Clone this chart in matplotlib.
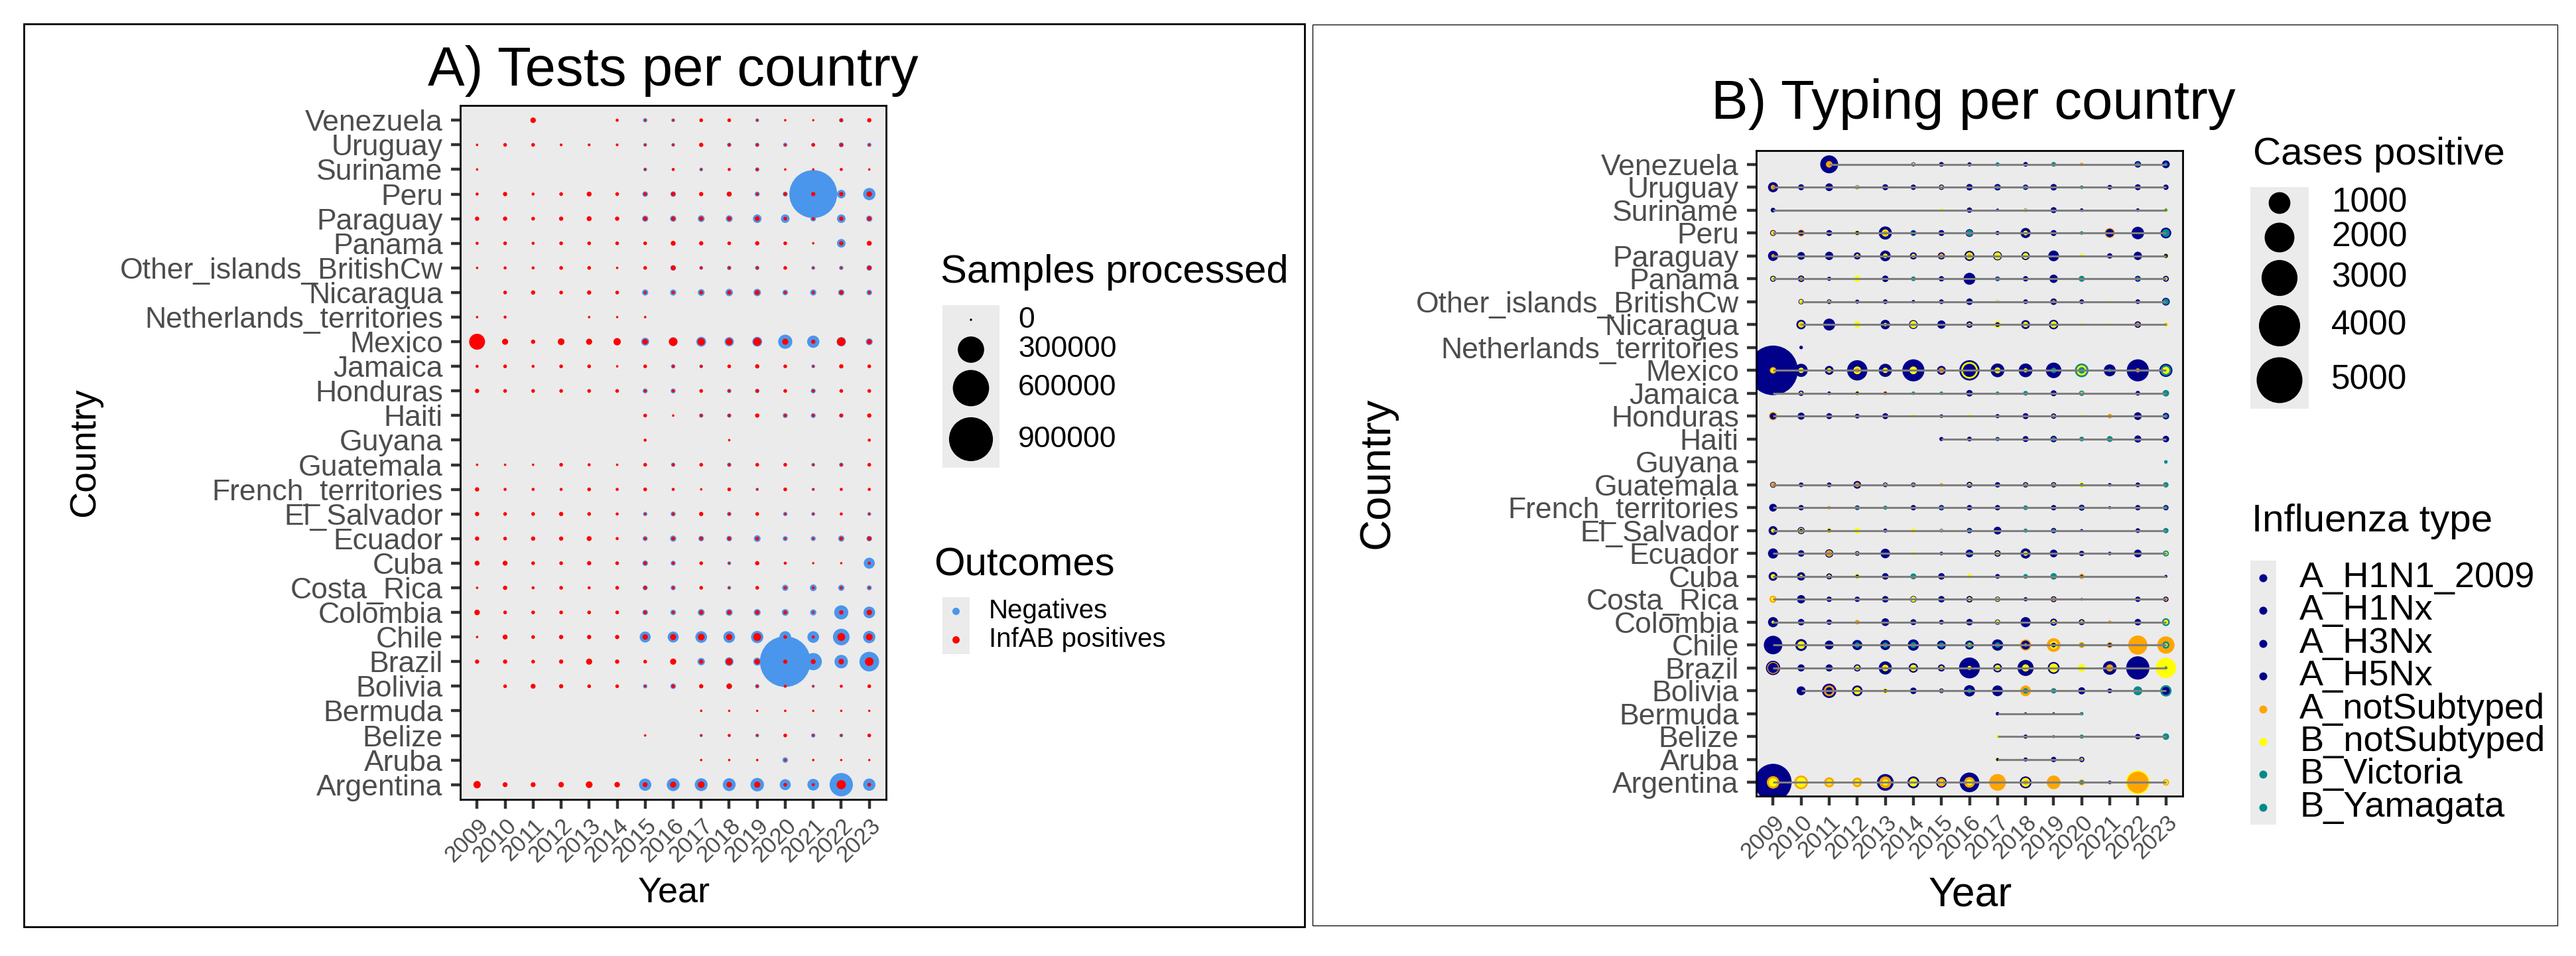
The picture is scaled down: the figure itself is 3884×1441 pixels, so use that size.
import numpy as np
import matplotlib
matplotlib.use("Agg")
import matplotlib.pyplot as plt
from matplotlib.patches import Rectangle

plt.rcParams['font.family'] = ['Liberation Sans', 'DejaVu Sans']

W, H, DPI = 3884, 1441, 100
N = None

countries = ["Argentina", "Aruba", "Belize", "Bermuda", "Bolivia", "Brazil", "Chile",
             "Colombia", "Costa_Rica", "Cuba", "Ecuador", "El_Salvador",
             "French_territories", "Guatemala", "Guyana", "Haiti", "Honduras",
             "Jamaica", "Mexico", "Netherlands_territories", "Nicaragua",
             "Other_islands_BritishCw", "Panama", "Paraguay", "Peru", "Suriname",
             "Uruguay", "Venezuela"]
years = list(range(2009, 2024))

# ---------------- Panel A: samples processed (2009..2023) ----------------
infab_positives = {
    "Argentina": [13200, 3500, 3500, 5300, 10200, 5300, 3500, 7600, 10200, 5300, 7600, 1000, 300, 24800, 1000],
    "Aruba": [N, N, N, N, N, N, N, N, 10, 10, 10, 10, 10, 0, 0],
    "Belize": [N, N, N, N, N, N, 10, N, 10, 300, 10, 1000, 10, 10, 1000],
    "Bermuda": [N, N, N, N, N, N, N, N, 10, 0, 0, 10, 0, 0, 0],
    "Bolivia": [N, 1000, 3500, 2000, 1000, 1000, 10, 1000, 2000, 5300, 300, 300, 0, 300, 1000],
    "Brazil": [2000, 2000, 1000, 2000, 7600, 2000, 1000, 7600, 2000, 10200, 5300, 2000, 3500, 5300, 20400],
    "Chile": [10, 3500, 1000, 2000, 2000, 2000, 5300, 7600, 10200, 7600, 16500, 1000, 300, 16500, 10200],
    "Colombia": [5300, 1000, 1000, 1000, 1000, 1000, 1000, 300, 2000, 2000, 2000, 1000, 10, 2000, 5300],
    "Costa_Rica": [10, 2000, 300, 1000, 300, 1000, 1000, 300, 1000, 10, 1000, 300, 300, 300, 10],
    "Cuba": [3500, 3500, 1000, 1000, 2000, 1000, 1000, 300, 1000, 10, 2000, 300, 0, 0, 300],
    "Ecuador": [2000, 1000, 2000, 2000, 3500, 300, 300, 1000, 1000, 1000, 1000, 10, 10, 1000, 2000],
    "El_Salvador": [2000, 1000, 1000, 2000, 1000, 300, 10, 300, 2000, 300, 1000, 10, 10, 300, 10],
    "French_territories": [2000, 300, 300, 300, 1000, 300, 1000, 300, 10, 1000, 10, 1000, 10, 300, 300],
    "Guatemala": [10, 10, 10, 1000, 300, 10, 1000, 300, 1000, 300, 1000, 1000, 10, 300, 1000],
    "Guyana": [N, N, N, N, N, N, 300, N, N, 10, N, N, N, N, 300],
    "Haiti": [N, N, N, N, N, N, 1000, 10, 300, 300, 2000, 300, 300, 1000, 2000],
    "Honduras": [2000, 1000, 1000, 1000, 1000, 1000, 300, 300, 1000, 300, 1000, 1000, 300, 1000, 1000],
    "Jamaica": [300, 1000, 300, 1000, 1000, 10, 1000, 300, 300, 1000, 2000, 1000, 10, 2000, 1000],
    "Mexico": [96200, 7600, 2000, 10200, 7600, 13200, 5300, 20400, 13200, 10200, 16500, 7600, 2000, 20400, 3500],
    "Netherlands_territories": [10, 300, N, N, 10, 0, 10, N, N, N, N, N, N, N, N],
    "Nicaragua": [N, 1000, 2000, 1000, 2000, 1000, 300, 300, 1000, 2000, 3500, 300, 300, 2000, 300],
    "Other_islands_BritishCw": [10, 300, 300, 1000, 1000, 10, 1000, 3500, 300, 300, 300, 1000, 10, 10, 2000],
    "Panama": [300, 1000, 300, 1000, 1000, 1000, 1000, 3500, 2000, 1000, 2000, 1000, 10, 2000, 3500],
    "Paraguay": [2000, 2000, 1000, 2000, 3500, 2000, 2000, 2000, 2000, 2000, 3500, 1000, 300, 2000, 2000],
    "Peru": [300, 2000, 300, 1000, 3500, 1000, 1000, 2000, 2000, 3500, 300, 1000, 2000, 2000, 5300],
    "Suriname": [10, N, N, N, N, N, 10, 300, 10, 300, 300, 10, 10, 300, 10],
    "Uruguay": [10, 1000, 1000, 100, 100, 100, 10, 10, 2000, 300, 300, 10, 1000, 1000, 10],
    "Venezuela": [N, N, 5300, N, N, 300, 10, 10, 1000, 1000, 10, 10, 0, 1000, 2000],
}

negatives = {
    "Argentina": [N, N, N, N, N, N, 51500, 57900, 57900, 57900, 64600, 39300, 45500, 229000, 51500],
    "Aruba": [N, N, N, N, N, N, N, N, N, N, N, 5300, N, N, N],
    "Belize": [N, N, N, N, N, N, N, N, 300, N, 1000, N, 2000, 1000, N],
    "Bermuda": [N] * 15,
    "Bolivia": [N, N, N, N, N, N, 2000, 5300, N, 5300, 2000, N, 300, N, N],
    "Brazil": [N, N, N, N, N, N, N, N, 13200, 20400, 16500, 1213000, 115000, 64600, 156000],
    "Chile": [N, N, N, N, N, N, 39300, 39300, 45500, 45500, 51500, 45500, 45500, 106000, 51500],
    "Colombia": [N, N, N, N, N, N, 5300, 5300, 10200, 10200, 10200, 10200, 7600, 72500, 45500],
    "Costa_Rica": [N, N, N, N, N, N, 3500, 3500, N, 1000, N, 7600, 10200, 7600, 3500],
    "Cuba": [N, N, N, N, N, N, 5300, 3500, N, 1000, N, N, N, N, 39300],
    "Ecuador": [N, N, N, N, N, N, 3500, 7600, 5300, 5300, 10200, 3500, 3500, 7600, 5300],
    "El_Salvador": [N, N, N, N, N, N, 2000, 3500, N, 2000, N, 2000, 1000, N, 1000],
    "French_territories": [N, N, N, N, N, N, N, N, N, N, 300, N, 300, N, N],
    "Guatemala": [N, N, N, N, N, N, N, 2000, N, 2000, N, N, 1000, 2000, N],
    "Guyana": [N] * 15,
    "Haiti": [N, N, N, N, N, N, N, N, 2000, 2000, N, 3500, 3500, 2000, N],
    "Honduras": [N, N, N, N, N, N, 3500, 3500, N, 2000, 2000, N, 3500, N, N],
    "Jamaica": [N, N, N, N, N, N, N, 2000, 1000, N, N, N, 1000, N, N],
    "Mexico": [N, N, N, N, N, N, 16500, 20400, 29200, 24800, 29200, 72500, 51500, 24800, 10200],
    "Netherlands_territories": [N] * 15,
    "Nicaragua": [N, N, N, N, N, N, 7600, 7600, 10200, 13200, 13200, 5300, 7600, 7600, 5300],
    "Other_islands_BritishCw": [N, N, N, N, N, N, N, 5300, 1000, 2000, 2000, N, 1000, 2000, 5300],
    "Panama": [N, N, N, N, N, N, N, N, N, N, N, N, N, 20400, N],
    "Paraguay": [N, N, N, N, N, N, 7600, 7600, 10200, 10200, 20400, 20400, 5300, 20400, 7600],
    "Peru": [N, N, N, N, N, N, 5300, 5300, N, 3500, 3500, 3500, 1077000, 20400, 51500],
    "Suriname": [N, N, N, N, N, N, 1000, N, 1000, N, 2000, N, N, N, N],
    "Uruguay": [N, N, N, N, N, N, 1000, 1000, N, 2000, 2000, 2000, 1000, 3500, 2000],
    "Venezuela": [N, N, N, N, N, N, 2000, 1000, N, N, 1000, N, N, 2000, N],
}
samples_breaks = [0, 300000, 600000, 900000]
outcome_labels = ["Negatives", "InfAB positives"]
outcome_colors = ["#4A96EC", "#FF0000"]

# ---------------- Panel B: positive cases by influenza type ----------------
A_H1N1_2009 = {
    "Venezuela": {2011: 650, 2014: 10, 2015: 17, 2016: 10, 2018: 17, 2022: 50, 2023: 82},
    "Uruguay": {2009: 167, 2010: 38, 2011: 82, 2012: 10, 2013: 38, 2014: 27, 2015: 27, 2016: 50, 2017: 50, 2018: 27, 2019: 50, 2021: 17, 2022: 38, 2023: 27},
    "Suriname": {2009: 17, 2016: 27, 2017: 2, 2019: 38, 2020: 5, 2022: 5},
    "Peru": {2009: 38, 2010: 27, 2011: 38, 2012: 10, 2013: 315, 2014: 17, 2015: 38, 2016: 82, 2017: 10, 2018: 167, 2019: 38, 2021: 100, 2022: 281, 2023: 193},
    "Paraguay": {2009: 167, 2010: 82, 2011: 100, 2012: 65, 2013: 193, 2014: 65, 2015: 65, 2016: 167, 2017: 120, 2018: 100, 2019: 193, 2021: 27, 2022: 100, 2023: 10},
    "Panama": {2009: 38, 2010: 50, 2011: 10, 2013: 50, 2015: 27, 2016: 250, 2017: 17, 2018: 27, 2019: 100, 2022: 38, 2023: 38},
    "Other_islands_BritishCw": {2010: 27, 2011: 17, 2012: 10, 2013: 17, 2014: 5, 2015: 17, 2016: 50, 2018: 17, 2019: 50, 2020: 17, 2022: 17, 2023: 82},
    "Nicaragua": {2010: 143, 2011: 250, 2013: 143, 2014: 120, 2015: 100, 2016: 50, 2017: 17, 2018: 120, 2019: 143, 2022: 50},
    "Netherlands_territories": {2010: 5},
    "Mexico": {2009: 5900, 2010: 315, 2011: 120, 2012: 862, 2013: 315, 2014: 1040, 2015: 120, 2016: 862, 2017: 350, 2018: 350, 2019: 467, 2021: 250, 2022: 1040, 2023: 315},
    "Jamaica": {2009: 5, 2010: 27, 2011: 5, 2012: 5, 2013: 2, 2016: 50, 2019: 38, 2022: 17},
    "Honduras": {2009: 50, 2010: 65, 2011: 38, 2012: 17, 2013: 38, 2015: 5, 2017: 10, 2018: 38, 2019: 27, 2022: 82, 2023: 50},
    "Haiti": {2015: 10, 2016: 17, 2017: 10, 2018: 38, 2019: 50, 2022: 65, 2023: 50},
    "Guatemala": {2009: 38, 2010: 17, 2011: 17, 2012: 82, 2013: 17, 2014: 17, 2016: 38, 2017: 27, 2018: 27, 2019: 27, 2021: 5, 2022: 17},
    "French_territories": {2009: 82, 2010: 27, 2012: 17, 2014: 27, 2015: 27, 2016: 27, 2017: 27, 2019: 27, 2020: 38, 2021: 2, 2022: 27, 2023: 27},
    "El_Salvador": {2009: 120, 2010: 65, 2011: 5, 2013: 10, 2015: 5, 2016: 27, 2017: 82, 2019: 27, 2020: 2, 2022: 17},
    "Ecuador": {2009: 167, 2010: 50, 2011: 100, 2012: 17, 2013: 143, 2015: 5, 2016: 82, 2017: 50, 2018: 167, 2019: 82, 2020: 27, 2021: 5, 2022: 82},
    "Cuba": {2009: 120, 2010: 100, 2011: 38, 2012: 5, 2013: 50, 2015: 50, 2017: 17, 2020: 2, 2023: 2},
    "Costa_Rica": {2010: 100, 2011: 27, 2012: 27, 2013: 50, 2014: 50, 2015: 50, 2016: 50, 2017: 27, 2018: 10, 2019: 38, 2022: 27, 2023: 27},
    "Colombia": {2009: 167, 2010: 50, 2011: 27, 2013: 82, 2014: 38, 2015: 17, 2016: 50, 2017: 27, 2018: 167, 2019: 65, 2020: 38, 2022: 50},
    "Chile": {2009: 700, 2010: 250, 2011: 120, 2012: 167, 2013: 167, 2014: 220, 2015: 120, 2016: 120, 2017: 220, 2018: 120, 2019: 17, 2021: 10},
    "Brazil": {2009: 388, 2010: 65, 2011: 65, 2012: 65, 2013: 315, 2014: 143, 2015: 65, 2016: 920, 2017: 120, 2018: 510, 2019: 250, 2021: 350, 2022: 1170},
    "Bolivia": {2010: 120, 2011: 388, 2012: 193, 2013: 5, 2014: 50, 2015: 17, 2016: 220, 2017: 193, 2020: 65, 2021: 17, 2023: 82},
    "Bermuda": {2017: 5, 2018: 1, 2019: 1},
    "Belize": {2018: 10, 2022: 27},
    "Aruba": {2017: 2, 2018: 10, 2019: 27, 2020: 27},
    "Argentina": {2009: 3210, 2013: 555, 2014: 250, 2015: 193, 2016: 806, 2018: 250, 2021: 5},
}
A_H1Nx = {}
A_H3Nx = {"Mexico": {2016: 315}, "Brazil": {2009: 167}, "Bolivia": {2011: 65}, "El_Salvador": {2010: 5}}
A_H5Nx = {}
A_notSubtyped = {
    "Venezuela": {2011: 50, 2020: 5},
    "Uruguay": {2009: 17},
    "Peru": {2009: 17, 2010: 65, 2013: 17, 2021: 167},
    "Paraguay": {2009: 5, 2015: 17, 2016: 10},
    "Panama": {2010: 10},
    "Other_islands_BritishCw": {2019: 2},
    "Nicaragua": {2010: 5, 2022: 10, 2023: 2},
    "Mexico": {2009: 50, 2012: 17, 2015: 27, 2022: 10},
    "Jamaica": {2013: 10},
    "Honduras": {2009: 100, 2021: 17},
    "Guatemala": {2009: 17, 2012: 17, 2014: 2, 2015: 5, 2018: 5, 2019: 5},
    "French_territories": {2011: 5},
    "Ecuador": {2011: 50},
    "Cuba": {2020: 27},
    "Costa_Rica": {2009: 65, 2017: 1, 2019: 10, 2023: 5},
    "Colombia": {2012: 17, 2021: 5},
    "Chile": {2018: 220, 2019: 350, 2020: 38, 2021: 38, 2022: 752, 2023: 600},
    "Brazil": {2009: 250, 2013: 2, 2021: 65},
    "Bolivia": {2011: 193, 2018: 193},
    "Argentina": {2009: 281, 2010: 350, 2011: 167, 2012: 143, 2013: 250, 2015: 100, 2016: 193, 2017: 555, 2018: 17, 2019: 350, 2020: 38, 2022: 980, 2023: 50},
}
B_notSubtyped = {
    "Venezuela": {2014: 2},
    "Uruguay": {2012: 5, 2015: 5},
    "Suriname": {2015: 5, 2018: 1, 2023: 10},
    "Peru": {2009: 2, 2012: 27, 2013: 65, 2018: 17},
    "Paraguay": {2012: 5, 2013: 17, 2014: 10, 2016: 65, 2017: 65, 2018: 38, 2020: 10, 2023: 27},
    "Panama": {2009: 10, 2012: 50, 2023: 5},
    "Other_islands_BritishCw": {2010: 10, 2011: 2, 2017: 1, 2021: 1},
    "Nicaragua": {2010: 38, 2012: 50, 2013: 5, 2014: 65, 2016: 5, 2017: 65, 2018: 27, 2019: 50, 2020: 2, 2021: 1, 2023: 10},
    "Mexico": {2009: 10, 2010: 27, 2011: 17, 2012: 82, 2013: 27, 2014: 82, 2016: 555, 2017: 38, 2018: 10, 2020: 167, 2023: 65},
    "Jamaica": {2010: 2, 2012: 17, 2020: 2},
    "Honduras": {2014: 5, 2016: 5, 2019: 2, 2020: 2},
    "Guatemala": {2013: 2, 2016: 5, 2020: 27},
    "El_Salvador": {2009: 10, 2010: 27, 2011: 27, 2012: 38, 2014: 17, 2015: 1},
    "Ecuador": {2012: 2, 2014: 5, 2017: 10, 2018: 17, 2023: 5},
    "Cuba": {2009: 17, 2010: 5, 2011: 5, 2012: 27, 2016: 17},
    "Costa_Rica": {2009: 10, 2014: 27, 2016: 10, 2017: 10, 2020: 2},
    "Colombia": {2009: 2, 2017: 10, 2019: 10, 2020: 5, 2023: 17},
    "Chile": {2010: 82, 2016: 5, 2018: 2, 2019: 82, 2023: 5},
    "Brazil": {2012: 17, 2013: 50, 2014: 50, 2015: 10, 2016: 10, 2017: 38, 2018: 65, 2019: 120, 2020: 82, 2023: 862},
    "Bolivia": {2012: 65, 2013: 27, 2015: 2},
    "Belize": {2017: 2},
    "Aruba": {2017: 10, 2020: 2},
    "Argentina": {2009: 100, 2010: 167, 2011: 38, 2012: 27, 2013: 38, 2014: 100, 2015: 10, 2016: 38, 2018: 120, 2022: 1237, 2023: 10},
}
B_Victoria = {
    "Venezuela": {2017: 10, 2019: 17, 2022: 10, 2023: 5},
    "Uruguay": {2017: 5, 2018: 5, 2020: 5},
    "Suriname": {2018: 5, 2023: 2},
    "Peru": {2014: 38, 2016: 50, 2020: 5, 2023: 82},
    "Panama": {2014: 17, 2017: 5, 2020: 38, 2022: 10},
    "Other_islands_BritishCw": {2017: 2, 2023: 38},
    "Mexico": {2019: 27, 2020: 350, 2021: 5, 2023: 193},
    "Jamaica": {2014: 5, 2015: 5, 2017: 5, 2018: 17, 2020: 27, 2023: 50},
    "Honduras": {2023: 10},
    "Haiti": {2017: 2, 2019: 10, 2020: 17, 2021: 38},
    "Guyana": {2023: 5},
    "Guatemala": {2020: 5, 2023: 27},
    "French_territories": {2012: 5, 2013: 10, 2015: 5, 2018: 17, 2020: 5, 2023: 5},
    "El_Salvador": {2016: 5, 2018: 10, 2019: 5, 2023: 27},
    "Ecuador": {2016: 5, 2023: 38},
    "Cuba": {2014: 38, 2018: 17, 2019: 50},
    "Costa_Rica": {2020: 1},
    "Colombia": {2023: 82},
    "Chile": {2012: 27, 2013: 27, 2014: 38, 2015: 27, 2016: 38, 2017: 27, 2020: 5, 2023: 65},
    "Brazil": {2023: 2},
    "Bolivia": {2016: 17, 2018: 27, 2019: 27, 2022: 120, 2023: 220},
    "Bermuda": {2020: 5},
    "Belize": {2019: 2, 2020: 10, 2023: 50},
    "Argentina": {2020: 10},
}
B_Yamagata = {"Mexico": {2020: 50}}

flu_types = ["A_H1N1_2009", "A_H1Nx", "A_H3Nx", "A_H5Nx", "A_notSubtyped",
             "B_notSubtyped", "B_Victoria", "B_Yamagata"]
flu_data = [A_H1N1_2009, A_H1Nx, A_H3Nx, A_H5Nx, A_notSubtyped,
            B_notSubtyped, B_Victoria, B_Yamagata]
flu_colors = ["#00008B", "#00008B", "#00008B", "#00008B", "#FFA500",
              "#FFFF00", "#008B8B", "#008B8B"]
cases_breaks = [1000, 2000, 3000, 4000, 5000]


# ---------------- size scales (diameter in pixels) ----------------
def size_a(v):
    d = 3.5 + 20.9 * np.sqrt(np.asarray(v, dtype=float) / 1e5)
    return (d * 72.0 / DPI) ** 2


def size_b(v):
    d = 3.3 + 29.4 * np.sqrt(np.asarray(v, dtype=float) / 1000.0)
    return (d * 72.0 / DPI) ** 2


fig = plt.figure(figsize=(W / DPI, H / DPI), dpi=DPI)
TXT = "#4D4D4D"


def style_axes(ax):
    ax.set_facecolor("#EBEBEB")
    ax.set_xlim(-0.6, len(years) - 0.4)
    ax.set_ylim(-0.6, len(countries) - 0.4)
    for sp in ax.spines.values():
        sp.set_linewidth(2.0)
        sp.set_color("black")
    ax.set_xticks(range(len(years)))
    ax.set_xticklabels([str(y) for y in years], rotation=45, ha="right", va="top",
                       rotation_mode="anchor", fontsize=25, color=TXT)
    ax.set_yticks(range(len(countries)))
    ax.set_yticklabels(countries, fontsize=32, color=TXT)
    ax.tick_params(axis="both", length=10.4, width=3.2, color="#333333")
    ax.tick_params(axis="y", pad=8.5)
    ax.tick_params(axis="x", pad=6)


# ---- Panel A ----
axA = fig.add_axes([694 / W, 1 - 1205 / H, 642 / W, 1046 / H])
style_axes(axA)
for data, col, z in [(negatives, outcome_colors[0], 2), (infab_positives, outcome_colors[1], 3)]:
    xs, ys, vs = [], [], []
    for ci, c in enumerate(countries):
        for yi, v in enumerate(data[c]):
            if v is not None:
                xs.append(yi); ys.append(ci); vs.append(v)
    axA.scatter(xs, ys, s=size_a(vs), c=col, linewidths=0, zorder=z)

# ---- Panel B ----
axB = fig.add_axes([2648 / W, 1 - 1200 / H, 643 / W, 973 / H])
style_axes(axB)
pts = []
for tdata, col in zip(flu_data, flu_colors):
    for c, yrs in tdata.items():
        for yr, v in yrs.items():
            pts.append((years.index(yr), countries.index(c), v, col))
pts.sort(key=lambda p: -p[2])
axB.scatter([p[0] for p in pts], [p[1] for p in pts], s=size_b([p[2] for p in pts]),
            c=[p[3] for p in pts], linewidths=0, zorder=2)
for ci, c in enumerate(countries):
    present = sorted({years.index(yr) for td in flu_data if c in td for yr in td[c]})
    if len(present) > 1:
        axB.plot([present[0], present[-1]], [ci, ci], color="#7F7F7F", lw=2.2,
                 solid_capstyle="butt", zorder=3)

# ---------------- titles, axis titles, legends, borders ----------------
ov = fig.add_axes([0, 0, 1, 1], zorder=10)
ov.set_xlim(0, W)
ov.set_ylim(H, 0)
ov.axis("off")
ov.patch.set_alpha(0)

ov.add_patch(Rectangle((36, 36), 1967 - 36, 1397 - 36, fill=False, lw=2.0, ec="black"))
ov.add_patch(Rectangle((1979, 37), 3856 - 1979, 1395 - 37, fill=False, lw=0.9, ec="black"))

ov.text(1015, 129, "A) Tests per country", fontsize=60, ha="center", va="baseline")
ov.text(2975, 179, "B) Typing per country", fontsize=60, ha="center", va="baseline")
ov.text(128, 682, "Country", fontsize=40, rotation=90, ha="center", va="center")
ov.text(1016, 1360, "Year", fontsize=39, ha="center", va="baseline")
ov.text(2077, 713, "Country", fontsize=47, rotation=90, ha="center", va="center")
ov.text(2971, 1365, "Year", fontsize=45, ha="center", va="baseline")

# Legend A: sizes
ov.text(1418, 426, "Samples processed", fontsize=43, ha="left", va="baseline")
ov.add_patch(Rectangle((1421, 460), 86, 245, fc="#EBEBEB", ec="none"))
keyA_y = [482, 527, 585, 662]
ov.scatter([1464] * 4, keyA_y, s=size_a(samples_breaks), c="black", linewidths=0)
for yk, b in zip(keyA_y, samples_breaks):
    ov.text(1535, yk, str(b), fontsize=32, ha="left", va="center")

# Legend A: outcomes
ov.text(1408, 867, "Outcomes", fontsize=43, ha="left", va="baseline")
ov.add_patch(Rectangle((1421, 900), 41, 86, fc="#EBEBEB", ec="none"))
for yk, lab, col in zip([921, 964], outcome_labels, outcome_colors):
    ov.scatter([1441], [yk], s=(11 * 0.72) ** 2, c=col, linewidths=0)
    ov.text(1491, yk, lab, fontsize=29, ha="left", va="center")

# Legend B: sizes
ov.text(3397, 248, "Cases positive", fontsize=42, ha="left", va="baseline")
ov.add_patch(Rectangle((3393, 282), 88, 334, fc="#EBEBEB", ec="none"))
keyB_y = [306, 358, 419, 491, 573]
ov.scatter([3437] * 5, keyB_y, s=size_b(cases_breaks), c="black", linewidths=0)
for yk, b in zip(keyB_y, cases_breaks):
    ov.text(3515, yk, str(b), fontsize=37, ha="left", va="center")

# Legend B: influenza type
ov.text(3395, 801, "Influenza type", fontsize=42, ha="left", va="baseline")
ov.add_patch(Rectangle((3393, 845), 39, 398, fc="#EBEBEB", ec="none"))
for i, (lab, col) in enumerate(zip(flu_types, flu_colors)):
    yk = 871 + i * 49.4
    ov.scatter([3412], [yk], s=(12 * 0.72) ** 2, c=col, linewidths=0)
    ov.text(3467, yk, lab, fontsize=39, ha="left", va="center")

fig.savefig("out.png", dpi=DPI, facecolor="white")
